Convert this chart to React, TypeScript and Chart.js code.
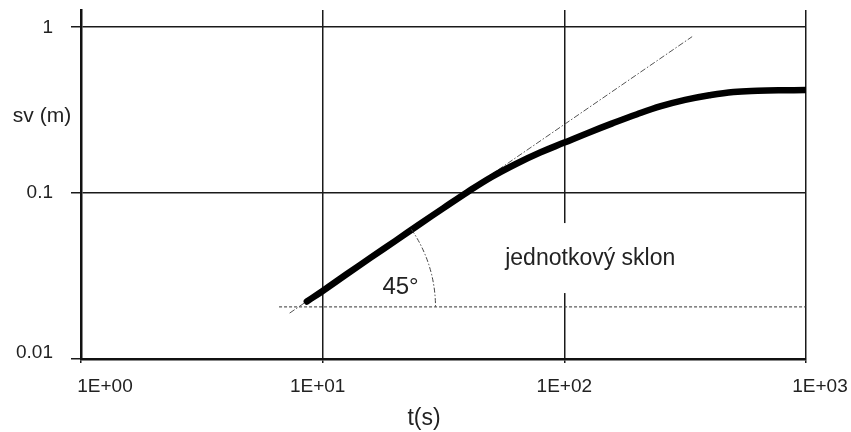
import React, { useEffect, useRef } from 'react';
import { Chart, registerables } from 'chart.js';

Chart.register(...registerables);

// ---- data ----
const xTickValues = [1, 10, 100, 1000];
const xTickLabels = ['1E+00', '1E+01', '1E+02', '1E+03'];
const yTickValues = [0.01, 0.1, 1];
const yTickLabels = ['0.01', '0.1', '1'];

const curveT = [8.6, 10, 12.6, 15.8, 20, 25, 31.6, 39.8, 50, 63, 79.4, 100, 126, 158, 200, 251, 316, 398, 501, 631, 794, 1000];
const curveS = [0.0222, 0.0257, 0.0325, 0.0408, 0.0515, 0.0644, 0.0811, 0.1015, 0.1249, 0.1495, 0.1752, 0.2012, 0.231, 0.2628, 0.2983, 0.3332, 0.3637, 0.3879, 0.4062, 0.4128, 0.4157, 0.4167];

const tangentT = [7.3, 338];
const tangentS = [0.0189, 0.875];

const baseT = [6.6, 1000];
const baseS = [0.0206, 0.0206];

const arcCenterT = 7.95;
const arcEndT = 29.3;

const angleLabel = '45°';
const angleLabelT = 21;
const angleLabelS = 0.0271;
const slopeLabel = 'jednotkový sklon';
const slopeLabelT = 128;
const slopeLabelS = 0.04;

const xTitle = 't(s)';
const yTitle = 'sv (m)';

// ---- styles ----
const FONT = '"Liberation Sans", Arial, sans-serif';
const TEXT = '#222';
const xLabelNudge = [24, -5, 0, 14];
const yLabelNudge = [-6, 0, 1];

const toPts = (xs: number[], ys: number[]) => xs.map((x, i) => ({ x, y: ys[i] }));

const annotationPlugin = {
  id: 'annotationPlugin',
  afterDatasetsDraw(chart: any) {
    const { ctx, scales } = chart;
    const xs = scales.x;
    const ys = scales.y;
    ctx.save();

    // angle arc
    const cx = xs.getPixelForValue(arcCenterT);
    const cy = ys.getPixelForValue(baseS[0]);
    const r = xs.getPixelForValue(arcEndT) - cx;
    const dx = xs.getPixelForValue(tangentT[1]) - xs.getPixelForValue(tangentT[0]);
    const dy = ys.getPixelForValue(tangentS[0]) - ys.getPixelForValue(tangentS[1]);
    const ang = Math.atan2(dy, dx);
    ctx.beginPath();
    ctx.setLineDash([5, 2, 1.5, 2]);
    ctx.strokeStyle = '#444';
    ctx.lineWidth = 1;
    ctx.arc(cx, cy, r, -ang, 0);
    ctx.stroke();
    ctx.setLineDash([]);

    // slope label with white background
    ctx.font = `23px ${FONT}`;
    const sx = xs.getPixelForValue(slopeLabelT);
    const sy = ys.getPixelForValue(slopeLabelS);
    const w = ctx.measureText(slopeLabel).width;
    ctx.fillStyle = '#fff';
    ctx.fillRect(sx - w / 2 - 6, sy - 36, w + 12, 70);
    ctx.fillStyle = TEXT;
    ctx.textAlign = 'center';
    ctx.textBaseline = 'middle';
    ctx.fillText(slopeLabel, sx, sy);

    // angle label
    ctx.font = `24px ${FONT}`;
    ctx.fillText(angleLabel, xs.getPixelForValue(angleLabelT), ys.getPixelForValue(angleLabelS));
    ctx.restore();
  },
  afterDraw(chart: any) {
    const { ctx, chartArea, scales } = chart;
    const xs = scales.x;
    const ys = scales.y;
    ctx.save();
    ctx.fillStyle = TEXT;
    ctx.font = `19px ${FONT}`;
    ctx.textBaseline = 'middle';
    ctx.textAlign = 'center';
    xTickValues.forEach((v, i) => {
      ctx.fillText(xTickLabels[i], xs.getPixelForValue(v) + xLabelNudge[i], chartArea.bottom + 28);
    });
    ctx.textAlign = 'right';
    yTickValues.forEach((v, i) => {
      ctx.fillText(yTickLabels[i], chartArea.left - 28, ys.getPixelForValue(v) + yLabelNudge[i]);
    });
    ctx.font = `21px ${FONT}`;
    ctx.textAlign = 'center';
    ctx.fillText(yTitle, 42, 116);
    ctx.font = `23px ${FONT}`;
    ctx.fillText(xTitle, 424, 419);
    ctx.restore();
  },
};

export default function App() {
  const ref = useRef<HTMLCanvasElement | null>(null);

  useEffect(() => {
    document.body.style.margin = '0';
    const canvas = ref.current;
    if (!canvas) return;
    const chart = new Chart(canvas, {
      type: 'line',
      data: {
        datasets: [
          {
            data: toPts(curveT, curveS),
            borderColor: '#000',
            borderWidth: 6.5,
            pointRadius: 0,
            tension: 0.4,
            borderCapStyle: 'round',
            borderJoinStyle: 'round',
            fill: false,
          },
          {
            data: toPts(tangentT, tangentS),
            borderColor: '#555',
            borderWidth: 1,
            borderDash: [6, 2, 1.5, 2],
            pointRadius: 0,
            tension: 0,
            fill: false,
          },
          {
            data: toPts(baseT, baseS),
            borderColor: '#333',
            borderWidth: 1,
            borderDash: [3, 2],
            pointRadius: 0,
            tension: 0,
            fill: false,
          },
        ],
      },
      options: {
        responsive: false,
        animation: false,
        devicePixelRatio: 1,
        layout: { padding: { top: 10, right: 45, left: 0, bottom: 0 } },
        plugins: { legend: { display: false }, tooltip: { enabled: false } },
        scales: {
          x: {
            type: 'logarithmic',
            min: 1,
            max: 1000,
            afterBuildTicks: (s: any) => {
              s.ticks = xTickValues.map((value) => ({ value }));
            },
            afterFit: (s: any) => {
              s.height = 73;
            },
            ticks: { display: false },
            grid: { color: '#1a1a1a', lineWidth: 1.5, tickLength: 4, drawTicks: true },
            border: { color: '#111', width: 2.5 },
          },
          y: {
            type: 'logarithmic',
            min: 0.01,
            max: 1.266,
            afterBuildTicks: (s: any) => {
              s.ticks = yTickValues.map((value) => ({ value }));
            },
            afterFit: (s: any) => {
              s.width = 81;
            },
            ticks: { display: false },
            grid: { color: '#1a1a1a', lineWidth: 1.5, tickLength: 10, drawTicks: true },
            border: { color: '#111', width: 2.5 },
          },
        },
      },
      plugins: [annotationPlugin],
    } as any);
    return () => chart.destroy();
  }, []);

  return <canvas ref={ref} width={851} height={432} />;
}
